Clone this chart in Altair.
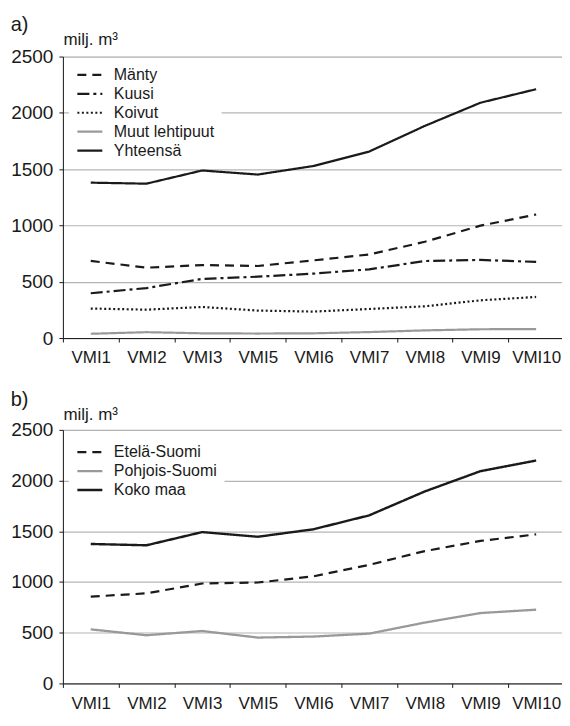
import altair as alt
import pandas as pd

vmi = ["VMI1", "VMI2", "VMI3", "VMI5", "VMI6", "VMI7", "VMI8", "VMI9", "VMI10"]

# Panel a) by tree species (milj. m3)
lajit = ["Mänty", "Kuusi", "Koivut", "Muut lehtipuut", "Yhteensä"]
manty = [685, 625, 648, 640, 690, 742, 855, 998, 1097]
kuusi = [398, 444, 525, 545, 572, 610, 684, 694, 676]
koivut = [262, 252, 276, 244, 235, 258, 282, 335, 365]
muut = [38, 52, 42, 40, 42, 53, 68, 78, 80]
yhteensa = [1380, 1371, 1488, 1452, 1528, 1656, 1884, 2090, 2210]

# Panel b) by region (milj. m3)
alueet = ["Etelä-Suomi", "Pohjois-Suomi", "Koko maa"]
etela = [856, 888, 985, 995, 1056, 1169, 1305, 1405, 1470]
pohjois = [533, 475, 517, 452, 462, 491, 600, 694, 727]
koko = [1375, 1362, 1492, 1446, 1520, 1657, 1893, 2093, 2198]

y_ticks = [0, 500, 1000, 1500, 2000, 2500]

BLACK = "#1a1a1a"
GRAY = "#999999"
FONT = "Liberation Sans"


def long(names, series):
    rows = []
    for n, s in zip(names, series):
        for v, val in zip(vmi, s):
            rows.append({"vmi": v, "sarja": n, "arvo": val})
    return pd.DataFrame(rows)


df_a = long(lajit, [manty, kuusi, koivut, muut, yhteensa])
df_b = long(alueet, [etela, pohjois, koko])


def panel(df, names, colors, dashes, widths, label, height, legend_y, title_y, title_offset):
    x = alt.X(
        "vmi:N",
        sort=vmi,
        scale=alt.Scale(type="band", paddingInner=0, paddingOuter=0),
        axis=alt.Axis(
            title=None, labelAngle=0, tickBand="extent", grid=False,
            domainColor=BLACK, tickColor=BLACK, tickSize=4, labelPadding=8,
            labelFont=FONT, labelFontSize=17, labelColor=BLACK,
        ),
    )
    y = alt.Y(
        "arvo:Q",
        scale=alt.Scale(domain=[0, 2500], nice=False),
        axis=alt.Axis(
            values=y_ticks, format="d", title="milj. m³", titleAngle=0, titleAlign="left",
            titleBaseline="alphabetic", titleX=0, titleY=title_y,
            titleFont=FONT, titleFontSize=17, titleFontWeight="normal", titleColor=BLACK,
            labelFont=FONT, labelFontSize=19, labelColor=BLACK, labelPadding=6,
            domainColor=BLACK, tickColor=BLACK, tickSize=4,
            grid=True, gridColor="#b5b5b5", gridWidth=1.2,
        ),
    )
    legend = alt.Legend(
        title=None, orient="none", legendX=6, legendY=legend_y,
        fillColor="white", padding=7, symbolType="stroke", symbolSize=625,
        clipHeight=18.6, rowPadding=0, labelOffset=10,
        labelFont=FONT, labelFontSize=16, labelColor=BLACK,
    )
    return (
        alt.Chart(df)
        .mark_line(strokeCap="butt", strokeJoin="round")
        .encode(
            x=x,
            y=y,
            color=alt.Color("sarja:N", sort=names,
                            scale=alt.Scale(domain=names, range=colors), legend=legend),
            strokeDash=alt.StrokeDash("sarja:N", sort=names,
                                      scale=alt.Scale(domain=names, range=dashes), legend=legend),
            strokeWidth=alt.StrokeWidth("sarja:N", sort=names,
                                        scale=alt.Scale(domain=names, range=widths), legend=legend),
            detail="sarja:N",
        )
        .properties(
            width=502, height=height,
            title=alt.TitleParams(label, anchor="start", frame="bounds", fontSize=20,
                                  fontWeight="normal", font=FONT, color=BLACK,
                                  offset=title_offset),
        )
    )


a = panel(
    df_a, lajit,
    [BLACK, BLACK, BLACK, GRAY, BLACK],
    [[9, 6], [12, 4, 3, 4], [2, 2.5], [1, 0], [1, 0]],
    [2.2, 2.2, 2.0, 2.4, 3.2],
    "a)", 282, 2, -12, -4,
)
b = panel(
    df_b, alueet,
    [BLACK, GRAY, BLACK],
    [[9, 6], [1, 0], [1, 0]],
    [2.2, 2.4, 3.2],
    "b)", 254, 6, -10, -4,
)

chart = (
    alt.vconcat(a, b, spacing=22)
    .properties(padding={"left": 2, "top": 5, "right": -3, "bottom": 0})
    .resolve_scale(color="independent", strokeDash="independent", strokeWidth="independent")
    .configure_view(stroke=BLACK, strokeWidth=1.2)
    .configure(font=FONT)
)

chart.save("out.html", embed_options={"renderer": "svg", "actions": False})
